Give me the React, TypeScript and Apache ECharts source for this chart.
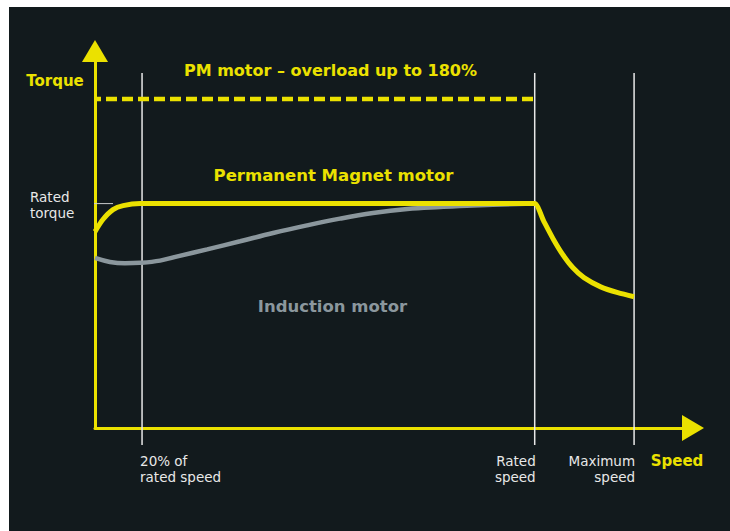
import React, { useEffect, useRef } from "react";
import * as echarts from "echarts";

const YELLOW = "#ebe100";
const GREY = "#8b979d";
const BG = "#121a1d";
const WHITE = "#e8e8e8";
const FONT = "'DejaVu Sans', 'Noto Sans', sans-serif";

// Permanent magnet motor torque curve (speed units: rated speed = 100, torque: rated = 100)
const pmSpeed = [0, 1.8, 4.1, 6.4, 10.3, 99, 100, 102.1, 104.3, 106.4, 108.7, 111.2, 115.0, 118.9, 122.6];
const pmTorque = [87.5, 92.9, 97.3, 99.1, 100, 100, 100, 92.0, 83.9, 77.2, 71.4, 67.0, 62.9, 60.3, 58.5];

// Induction motor torque curve
const imSpeed = [0, 3.4, 6.8, 10.2, 14.8, 19.0, 25.5, 33.0, 40.5, 48.2, 55.7, 63.2, 71.0, 78.5, 86.0, 100];
const imTorque = [75.8, 74.0, 73.4, 73.6, 74.6, 76.6, 79.6, 83.2, 86.9, 90.3, 93.3, 95.8, 97.6, 98.5, 99.2, 100];

// Marked speeds on the x axis
const markSpeeds = [10.7, 100, 122.6];
const markLabels = ["20% of\nrated speed", "Rated\nspeed", "Maximum\nspeed"];
const markAlign = ["left", "right", "right"];

const ratedTorque = 100;
const overloadTorque = 146.6;
const overloadEndSpeed = 100;
const xMax = 136;
const yMax = 168;
const guideTop = 158.2;
const guideBottom = -7.6;
const tickFrom = -2.7;
const tickTo = 4.1;

const W = 721;
const H = 524;

function textEl(text: string, x: number, y: number, fill: string, size: number, weight: string, align: string, lineHeight?: number) {
  return {
    type: "text",
    silent: true,
    z: 20,
    style: {
      text,
      x,
      y,
      fill,
      font: `${weight} ${size}px ${FONT}`,
      align,
      textAlign: align,
      verticalAlign: "middle",
      textVerticalAlign: "middle",
      lineHeight: lineHeight || size * 1.2,
    },
  };
}

export default function App() {
  const ref = useRef<HTMLDivElement>(null);
  useEffect(() => {
    if (!ref.current) return;
    const chart = echarts.init(ref.current, undefined, { renderer: "svg" });

    const guideSeries = markSpeeds.map((s) => ({
      type: "line",
      data: [
        [s, guideBottom],
        [s, guideTop],
      ],
      symbol: "none",
      clip: false,
      silent: true,
      z: 1,
      lineStyle: { color: WHITE, width: 1.5 },
    }));

    chart.setOption({
      animation: false,
      backgroundColor: BG,
      grid: { left: 86, top: 44, right: 37, bottom: 103, containLabel: false },
      xAxis: {
        type: "value",
        min: 0,
        max: xMax,
        axisLine: {
          show: true,
          symbol: ["none", "triangle"],
          symbolSize: [26, 22],
          lineStyle: { color: YELLOW, width: 3 },
        },
        axisTick: { show: false },
        axisLabel: { show: false },
        splitLine: { show: false },
      },
      yAxis: {
        type: "value",
        min: 0,
        max: yMax,
        axisLine: {
          show: true,
          symbol: ["none", "triangle"],
          symbolSize: [26, 22],
          lineStyle: { color: YELLOW, width: 3 },
        },
        axisTick: { show: false },
        axisLabel: { show: false },
        splitLine: { show: false },
      },
      series: [
        ...guideSeries,
        {
          type: "line",
          data: [
            [tickFrom, ratedTorque],
            [tickTo, ratedTorque],
          ],
          symbol: "none",
          clip: false,
          silent: true,
          z: 1,
          lineStyle: { color: "#c9cccd", width: 1 },
        },
        {
          type: "line",
          data: [
            [0, overloadTorque],
            [overloadEndSpeed, overloadTorque],
          ],
          symbol: "none",
          silent: true,
          z: 3,
          lineStyle: { color: YELLOW, width: 4.5, type: [11, 5], dashOffset: 5, cap: "butt" },
        },
        {
          type: "line",
          data: imSpeed.map((s, i) => [s, imTorque[i]]),
          symbol: "none",
          smooth: 0.4,
          silent: true,
          z: 4,
          lineStyle: { color: GREY, width: 4.5 },
        },
        {
          type: "line",
          data: pmSpeed.map((s, i) => [s, pmTorque[i]]),
          symbol: "none",
          smooth: 0.25,
          silent: true,
          z: 5,
          lineStyle: { color: YELLOW, width: 5, join: "round" },
        },
      ],
    });

    const labels = markSpeeds.map((s, i) => {
      const p = chart.convertToPixel({ gridIndex: 0 }, [s, 0]) as number[];
      const x = markAlign[i] === "left" ? p[0] - 2 : p[0] + 1;
      return textEl(markLabels[i], x, 462, WHITE, 13.5, "normal", markAlign[i], 16);
    });

    chart.setOption({
      graphic: [
        textEl("PM motor – overload up to 180%", 321.5, 63, YELLOW, 16, "bold", "center"),
        textEl("Permanent Magnet motor", 324.5, 168, YELLOW, 16.5, "bold", "center"),
        textEl("Induction motor", 323.5, 299, GREY, 16.5, "bold", "center"),
        textEl("Torque", 46, 74, YELLOW, 15, "bold", "center"),
        textEl("Speed", 668, 454, YELLOW, 15, "bold", "center"),
        textEl("Rated\ntorque", 21, 198, WHITE, 13.5, "normal", "left", 16.5),
        ...labels,
      ],
    });

    return () => chart.dispose();
  }, []);

  return (
    <div
      ref={ref}
      style={{ position: "absolute", left: 9, top: 7, width: W, height: H }}
    />
  );
}
